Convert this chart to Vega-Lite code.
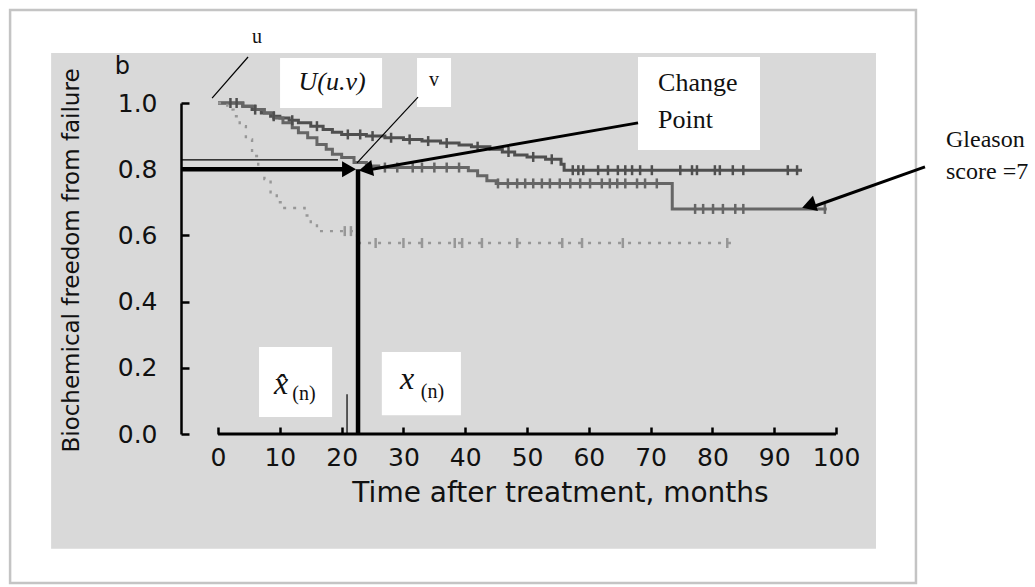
{
  "$schema": "https://vega.github.io/schema/vega-lite/v6.json",
  "width": 655,
  "height": 331,
  "autosize": {"type": "none"},
  "padding": {"left": 181, "top": 103, "right": 199, "bottom": 153},
  "background": "white",
  "config": {"view": {"stroke": null}},
  "datasets": {
    "km": [
      {"curve": "A", "month": 0, "surv": 1.0},
      {"curve": "A", "month": 4, "surv": 0.99},
      {"curve": "A", "month": 5.5, "surv": 0.98},
      {"curve": "A", "month": 7, "surv": 0.97},
      {"curve": "A", "month": 8.5, "surv": 0.96},
      {"curve": "A", "month": 10, "surv": 0.955},
      {"curve": "A", "month": 11.5, "surv": 0.948},
      {"curve": "A", "month": 13, "surv": 0.94},
      {"curve": "A", "month": 15, "surv": 0.93},
      {"curve": "A", "month": 17, "surv": 0.92},
      {"curve": "A", "month": 18.5, "surv": 0.912},
      {"curve": "A", "month": 20, "surv": 0.905},
      {"curve": "A", "month": 24, "surv": 0.9},
      {"curve": "A", "month": 27, "surv": 0.895},
      {"curve": "A", "month": 30, "surv": 0.89},
      {"curve": "A", "month": 33, "surv": 0.885},
      {"curve": "A", "month": 36, "surv": 0.879},
      {"curve": "A", "month": 39, "surv": 0.873},
      {"curve": "A", "month": 41, "surv": 0.868},
      {"curve": "A", "month": 44, "surv": 0.86},
      {"curve": "A", "month": 46, "surv": 0.852},
      {"curve": "A", "month": 48, "surv": 0.843},
      {"curve": "A", "month": 50, "surv": 0.837},
      {"curve": "A", "month": 53, "surv": 0.83},
      {"curve": "A", "month": 55.5, "surv": 0.815},
      {"curve": "A", "month": 56, "surv": 0.797},
      {"curve": "A", "month": 94.5, "surv": 0.797},
      {"curve": "B", "month": 0, "surv": 1.0},
      {"curve": "B", "month": 4, "surv": 0.99},
      {"curve": "B", "month": 6, "surv": 0.98},
      {"curve": "B", "month": 7.5, "surv": 0.97},
      {"curve": "B", "month": 9, "surv": 0.955},
      {"curve": "B", "month": 10.5, "surv": 0.94},
      {"curve": "B", "month": 12, "surv": 0.925},
      {"curve": "B", "month": 13, "surv": 0.91},
      {"curve": "B", "month": 14.5, "surv": 0.895},
      {"curve": "B", "month": 16, "surv": 0.875},
      {"curve": "B", "month": 17.5, "surv": 0.86},
      {"curve": "B", "month": 18.5, "surv": 0.845},
      {"curve": "B", "month": 20, "surv": 0.835},
      {"curve": "B", "month": 22, "surv": 0.82},
      {"curve": "B", "month": 24, "surv": 0.81},
      {"curve": "B", "month": 26, "surv": 0.805},
      {"curve": "B", "month": 40.5, "surv": 0.795},
      {"curve": "B", "month": 42, "surv": 0.78},
      {"curve": "B", "month": 43.5, "surv": 0.765},
      {"curve": "B", "month": 45, "surv": 0.757},
      {"curve": "B", "month": 73.5, "surv": 0.68},
      {"curve": "B", "month": 98.5, "surv": 0.68},
      {"curve": "C", "month": 0, "surv": 1.0},
      {"curve": "C", "month": 1.5, "surv": 0.98},
      {"curve": "C", "month": 2.5, "surv": 0.96},
      {"curve": "C", "month": 3.5, "surv": 0.93},
      {"curve": "C", "month": 4.5, "surv": 0.89},
      {"curve": "C", "month": 5.5, "surv": 0.84},
      {"curve": "C", "month": 6.5, "surv": 0.8},
      {"curve": "C", "month": 7.5, "surv": 0.77},
      {"curve": "C", "month": 8.5, "surv": 0.73},
      {"curve": "C", "month": 9.5, "surv": 0.7},
      {"curve": "C", "month": 10.5, "surv": 0.683},
      {"curve": "C", "month": 14, "surv": 0.66},
      {"curve": "C", "month": 15, "surv": 0.64},
      {"curve": "C", "month": 16, "surv": 0.613},
      {"curve": "C", "month": 22.5, "surv": 0.577},
      {"curve": "C", "month": 83, "surv": 0.577}
    ],
    "censor": [
      {"curve": "A", "month": 2, "surv": 1.0},
      {"curve": "A", "month": 3, "surv": 1.0},
      {"curve": "A", "month": 6, "surv": 0.98},
      {"curve": "A", "month": 9, "surv": 0.96},
      {"curve": "A", "month": 12, "surv": 0.948},
      {"curve": "A", "month": 16, "surv": 0.93},
      {"curve": "A", "month": 21, "surv": 0.905},
      {"curve": "A", "month": 23, "surv": 0.905},
      {"curve": "A", "month": 25, "surv": 0.9},
      {"curve": "A", "month": 28, "surv": 0.895},
      {"curve": "A", "month": 31, "surv": 0.89},
      {"curve": "A", "month": 34, "surv": 0.885},
      {"curve": "A", "month": 37, "surv": 0.879},
      {"curve": "A", "month": 42, "surv": 0.868},
      {"curve": "A", "month": 47, "surv": 0.852},
      {"curve": "A", "month": 51, "surv": 0.837},
      {"curve": "A", "month": 54, "surv": 0.83},
      {"curve": "A", "month": 57.4, "surv": 0.797},
      {"curve": "A", "month": 58.3, "surv": 0.797},
      {"curve": "A", "month": 59.1, "surv": 0.797},
      {"curve": "A", "month": 61.5, "surv": 0.797},
      {"curve": "A", "month": 63.1, "surv": 0.797},
      {"curve": "A", "month": 64.7, "surv": 0.797},
      {"curve": "A", "month": 65.9, "surv": 0.797},
      {"curve": "A", "month": 67.0, "surv": 0.797},
      {"curve": "A", "month": 68.3, "surv": 0.797},
      {"curve": "A", "month": 70.2, "surv": 0.797},
      {"curve": "A", "month": 74.8, "surv": 0.797},
      {"curve": "A", "month": 76.7, "surv": 0.797},
      {"curve": "A", "month": 77.5, "surv": 0.797},
      {"curve": "A", "month": 80.4, "surv": 0.797},
      {"curve": "A", "month": 81.2, "surv": 0.797},
      {"curve": "A", "month": 83.3, "surv": 0.797},
      {"curve": "A", "month": 85.0, "surv": 0.797},
      {"curve": "A", "month": 92.2, "surv": 0.797},
      {"curve": "A", "month": 93.7, "surv": 0.797},
      {"curve": "B", "month": 27, "surv": 0.805},
      {"curve": "B", "month": 29, "surv": 0.805},
      {"curve": "B", "month": 31.5, "surv": 0.805},
      {"curve": "B", "month": 33, "surv": 0.805},
      {"curve": "B", "month": 35, "surv": 0.805},
      {"curve": "B", "month": 37, "surv": 0.805},
      {"curve": "B", "month": 39, "surv": 0.805},
      {"curve": "B", "month": 45.3, "surv": 0.757},
      {"curve": "B", "month": 46.9, "surv": 0.757},
      {"curve": "B", "month": 48.4, "surv": 0.757},
      {"curve": "B", "month": 49.7, "surv": 0.757},
      {"curve": "B", "month": 51.0, "surv": 0.757},
      {"curve": "B", "month": 52.4, "surv": 0.757},
      {"curve": "B", "month": 53.7, "surv": 0.757},
      {"curve": "B", "month": 55.3, "surv": 0.757},
      {"curve": "B", "month": 57.0, "surv": 0.757},
      {"curve": "B", "month": 58.6, "surv": 0.757},
      {"curve": "B", "month": 60.2, "surv": 0.757},
      {"curve": "B", "month": 62.1, "surv": 0.757},
      {"curve": "B", "month": 63.4, "surv": 0.757},
      {"curve": "B", "month": 64.6, "surv": 0.757},
      {"curve": "B", "month": 65.9, "surv": 0.757},
      {"curve": "B", "month": 67.8, "surv": 0.757},
      {"curve": "B", "month": 69.1, "surv": 0.757},
      {"curve": "B", "month": 71.0, "surv": 0.757},
      {"curve": "B", "month": 77.2, "surv": 0.68},
      {"curve": "B", "month": 78.5, "surv": 0.68},
      {"curve": "B", "month": 80.1, "surv": 0.68},
      {"curve": "B", "month": 81.7, "surv": 0.68},
      {"curve": "B", "month": 83.7, "surv": 0.68},
      {"curve": "B", "month": 85.0, "surv": 0.68},
      {"curve": "B", "month": 98.2, "surv": 0.68},
      {"curve": "C", "month": 20.5, "surv": 0.613},
      {"curve": "C", "month": 21.5, "surv": 0.613},
      {"curve": "C", "month": 25.5, "surv": 0.577},
      {"curve": "C", "month": 30, "surv": 0.577},
      {"curve": "C", "month": 33, "surv": 0.577},
      {"curve": "C", "month": 38.3, "surv": 0.577},
      {"curve": "C", "month": 39.5, "surv": 0.577},
      {"curve": "C", "month": 42.7, "surv": 0.577},
      {"curve": "C", "month": 48.4, "surv": 0.577},
      {"curve": "C", "month": 55.7, "surv": 0.577},
      {"curve": "C", "month": 58.9, "surv": 0.577},
      {"curve": "C", "month": 65.5, "surv": 0.577},
      {"curve": "C", "month": 82.4, "surv": 0.577}
    ],
    "boxes": [
      {"box": "U", "x1": 10.03, "x2": 26.54, "y1": 1.136, "y2": 0.985},
      {"box": "v", "x1": 32.2, "x2": 37.7, "y1": 1.136, "y2": 0.988},
      {"box": "change", "x1": 67.96, "x2": 87.7, "y1": 1.139, "y2": 0.858},
      {"box": "xhat", "x1": 6.63, "x2": 18.45, "y1": 0.263, "y2": 0.051},
      {"box": "x", "x1": 26.5, "x2": 39.3, "y1": 0.248, "y2": 0.057}
    ],
    "segments": [
      {"kind": "thin", "x1": 4.85, "y1": 1.139, "x2": -0.97, "y2": 1.015},
      {"kind": "thin", "x1": 32.36, "y1": 1.018, "x2": 22.49, "y2": 0.819},
      {"kind": "thin", "x1": -6, "y1": 0.828, "x2": 19.4, "y2": 0.828},
      {"kind": "thin", "x1": 20.87, "y1": 0, "x2": 20.87, "y2": 0.12},
      {"kind": "thick", "x1": -6, "y1": 0.8, "x2": 21, "y2": 0.8},
      {"kind": "thick", "x1": 22.65, "y1": 0.8, "x2": 22.65, "y2": 0},
      {"kind": "arrow", "x1": 24.9, "y1": 0.8, "x2": 67.96, "y2": 0.94},
      {"kind": "arrow", "x1": 114.4, "y1": 0.807, "x2": 96.5, "y2": 0.688},
      {"kind": "axis", "x1": 0, "y1": 0, "x2": 100, "y2": 0}
    ],
    "heads": [
      {"head": "right", "month": 21.2, "surv": 0.8, "dir": 0},
      {"head": "left", "month": 23.9, "surv": 0.8, "dir": -10},
      {"head": "left", "month": 95.6, "surv": 0.69, "dir": -18}
    ],
    "serif": [
      {"text": "u", "month": 6.31, "surv": 1.199},
      {"text": "v", "month": 34.95, "surv": 1.069}
    ],
    "serifleft": [
      {"text": "Change", "month": 71.2, "surv": 1.06},
      {"text": "Point", "month": 71.2, "surv": 0.949},
      {"text": "Gleason", "month": 117.8, "surv": 0.888},
      {"text": "score =7", "month": 117.8, "surv": 0.792}
    ],
    "italic": [
      {"text": "U(u.v)", "month": 18.45, "surv": 1.063, "role": "big"},
      {"text": "x̂", "month": 10.2, "surv": 0.15, "role": "var"},
      {"text": "x", "month": 30.6, "surv": 0.165, "role": "var"}
    ],
    "subs": [
      {"text": "(n)", "month": 13.9, "surv": 0.122},
      {"text": "(n)", "month": 34.7, "surv": 0.128}
    ],
    "panel": [
      {"part": "b", "month": -15.5, "surv": 1.109}
    ]
  },
  "layer": [
    {
      "data": {"values": [{}]},
      "mark": {"type": "rect", "fill": "white", "stroke": "#c4c4c4", "strokeWidth": 2.5},
      "encoding": {
        "x": {
          "datum": -33.66, "type": "quantitative",
          "scale": {"domain": [-6, 100], "nice": false, "zero": false},
          "axis": {
            "zindex": 2,
            "values": [0, 10, 20, 30, 40, 50, 60, 70, 80, 90, 100],
            "domain": false, "grid": false,
            "tickSize": -7, "tickWidth": 2.5, "tickColor": "black",
            "labelFont": "DejaVu Sans", "labelFontSize": 25, "labelColor": "#111",
            "labelPadding": 18, "labelFlush": false, "labelOverlap": false,
            "title": "Time after treatment, months",
            "titleFont": "DejaVu Sans", "titleFontSize": 28, "titleFontWeight": "normal", "titleColor": "#111",
            "titleX": 379, "titleY": 59, "titleBaseline": "middle", "titleAlign": "center"
          }
        },
        "x2": {"datum": 112.94},
        "y": {
          "datum": 1.281, "type": "quantitative",
          "scale": {"domain": [0, 1], "nice": false, "zero": false},
          "axis": {
            "zindex": 2,
            "values": [0, 0.2, 0.4, 0.6, 0.8, 1.0], "format": ".1f",
            "domain": true, "domainColor": "black", "domainWidth": 2.5, "grid": false,
            "tickSize": -8, "tickWidth": 2.5, "tickColor": "black",
            "labelFont": "DejaVu Sans", "labelFontSize": 25, "labelColor": "#111",
            "labelPadding": 32, "labelFlush": false, "labelOverlap": false,
            "title": "Biochemical freedom from failure",
            "titleFont": "DejaVu Sans", "titleFontSize": 23, "titleFontWeight": "normal", "titleColor": "#111",
            "titleX": -110, "titleY": 157, "titleAngle": -90, "titleBaseline": "middle", "titleAlign": "center"
          }
        },
        "y2": {"datum": -0.45}
      }
    },
    {
      "data": {"values": [{}]},
      "mark": {"type": "rect", "fill": "#d9d9d9"},
      "encoding": {
        "x": {"datum": -27.02, "type": "quantitative"},
        "x2": {"datum": 106.47},
        "y": {"datum": 1.151, "type": "quantitative"},
        "y2": {"datum": -0.347}
      }
    },
    {
      "data": {"name": "boxes"},
      "mark": {"type": "rect", "fill": "white"},
      "encoding": {
        "x": {"field": "x1", "type": "quantitative"},
        "x2": {"field": "x2"},
        "y": {"field": "y1", "type": "quantitative"},
        "y2": {"field": "y2"}
      }
    },
    {
      "data": {"name": "km"},
      "transform": [{"filter": "datum.curve !== 'C'"}],
      "mark": {"type": "line", "interpolate": "step-after", "strokeWidth": 3},
      "encoding": {
        "x": {"field": "month", "type": "quantitative"},
        "y": {"field": "surv", "type": "quantitative"},
        "color": {"field": "curve", "type": "nominal", "scale": {"domain": ["A", "B"], "range": ["#4f4f4f", "#666666"]}, "legend": null}
      }
    },
    {
      "data": {"name": "km"},
      "transform": [{"filter": "datum.curve === 'C'"}],
      "mark": {"type": "line", "interpolate": "step-after", "strokeWidth": 2.4, "strokeDash": [3, 7], "color": "#979797"},
      "encoding": {
        "x": {"field": "month", "type": "quantitative"},
        "y": {"field": "surv", "type": "quantitative"}
      }
    },
    {
      "data": {"name": "censor"},
      "mark": {"type": "point", "shape": "M0,-1L0,1", "size": 100, "strokeWidth": 2.5, "filled": false, "opacity": 1},
      "encoding": {
        "x": {"field": "month", "type": "quantitative"},
        "y": {"field": "surv", "type": "quantitative"},
        "stroke": {"field": "curve", "type": "nominal", "scale": {"domain": ["A", "B", "C"], "range": ["#4f4f4f", "#666666", "#979797"]}, "legend": null}
      }
    },
    {
      "data": {"name": "segments"},
      "transform": [{"filter": "datum.kind === 'thin'"}],
      "mark": {"type": "rule", "color": "black", "strokeWidth": 1.2},
      "encoding": {
        "x": {"field": "x1", "type": "quantitative"},
        "y": {"field": "y1", "type": "quantitative"},
        "x2": {"field": "x2"},
        "y2": {"field": "y2"}
      }
    },
    {
      "data": {"name": "segments"},
      "transform": [{"filter": "datum.kind === 'thick'"}],
      "mark": {"type": "rule", "color": "black", "strokeWidth": 4.5},
      "encoding": {
        "x": {"field": "x1", "type": "quantitative"},
        "y": {"field": "y1", "type": "quantitative"},
        "x2": {"field": "x2"},
        "y2": {"field": "y2"}
      }
    },
    {
      "data": {"name": "segments"},
      "transform": [{"filter": "datum.kind === 'arrow' || datum.kind === 'axis'"}],
      "mark": {"type": "rule", "color": "black", "strokeWidth": 3},
      "encoding": {
        "x": {"field": "x1", "type": "quantitative"},
        "y": {"field": "y1", "type": "quantitative"},
        "x2": {"field": "x2"},
        "y2": {"field": "y2"}
      }
    },
    {
      "data": {"name": "heads"},
      "mark": {"type": "point", "filled": true, "color": "black", "opacity": 1, "size": 260},
      "encoding": {
        "x": {"field": "month", "type": "quantitative"},
        "y": {"field": "surv", "type": "quantitative"},
        "shape": {"field": "head", "type": "nominal", "scale": {"domain": ["right", "left"], "range": ["triangle-right", "triangle-left"]}, "legend": null},
        "angle": {"field": "dir", "type": "quantitative", "scale": null}
      }
    },
    {
      "data": {"name": "serif"},
      "mark": {"type": "text", "font": "Liberation Serif", "fontSize": 20, "color": "#111", "align": "center", "baseline": "middle"},
      "encoding": {
        "x": {"field": "month", "type": "quantitative"},
        "y": {"field": "surv", "type": "quantitative"},
        "text": {"field": "text"}
      }
    },
    {
      "data": {"name": "serifleft"},
      "mark": {"type": "text", "font": "Liberation Serif", "color": "#111", "align": "left", "baseline": "middle"},
      "encoding": {
        "x": {"field": "month", "type": "quantitative"},
        "y": {"field": "surv", "type": "quantitative"},
        "text": {"field": "text"},
        "size": {"condition": {"test": "datum.month > 100", "value": 24}, "value": 26}
      }
    },
    {
      "data": {"name": "italic"},
      "mark": {"type": "text", "font": "Liberation Serif", "fontStyle": "italic", "color": "#111", "align": "center", "baseline": "middle"},
      "encoding": {
        "x": {"field": "month", "type": "quantitative"},
        "y": {"field": "surv", "type": "quantitative"},
        "text": {"field": "text"},
        "size": {"field": "role", "type": "nominal", "scale": {"domain": ["big", "var"], "range": [26, 32]}, "legend": null}
      }
    },
    {
      "data": {"name": "subs"},
      "mark": {"type": "text", "font": "Liberation Serif", "fontSize": 20, "color": "#111", "align": "center", "baseline": "middle"},
      "encoding": {
        "x": {"field": "month", "type": "quantitative"},
        "y": {"field": "surv", "type": "quantitative"},
        "text": {"field": "text"}
      }
    },
    {
      "data": {"name": "panel"},
      "mark": {"type": "text", "font": "DejaVu Sans", "fontSize": 24, "color": "#111", "align": "center", "baseline": "middle", "text": "b"},
      "encoding": {
        "x": {"field": "month", "type": "quantitative"},
        "y": {"field": "surv", "type": "quantitative"}
      }
    }
  ]
}
